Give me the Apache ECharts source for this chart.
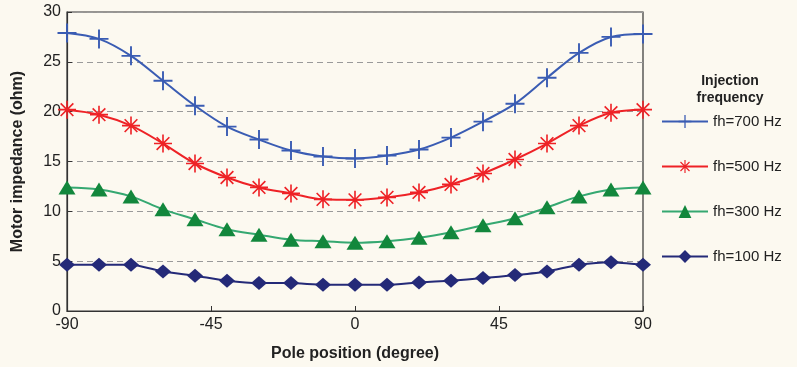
<!DOCTYPE html>
<html>
<head>
<meta charset="utf-8">
<script src="https://cdn.jsdelivr.net/npm/echarts@6/dist/echarts.min.js"></script>
<style>
html,body{margin:0;padding:0;background:#fcf9f0;}
#c{width:797px;height:367px;}
</style>
</head>
<body>
<div id="c"></div>
<script>
var positions = [-90,-80,-70,-60,-50,-40,-30,-20,-10,0,10,20,30,40,50,60,70,80,90];
var fh700 = [27.9,27.3,25.6,23.1,20.6,18.5,17.2,16.1,15.5,15.3,15.6,16.2,17.4,19.0,20.8,23.4,25.9,27.5,27.8];
var fh500 = [20.2,19.7,18.6,16.8,14.8,13.4,12.4,11.8,11.2,11.15,11.4,11.9,12.7,13.8,15.2,16.8,18.6,19.9,20.2];
var fh300 = [12.4,12.2,11.5,10.2,9.2,8.2,7.65,7.15,7.0,6.85,7.0,7.35,7.9,8.6,9.3,10.4,11.5,12.2,12.4];
var fh100 = [4.64,4.64,4.64,3.97,3.54,3.04,2.8,2.8,2.64,2.64,2.64,2.87,3.04,3.3,3.6,3.97,4.64,4.9,4.64];
var seriesNames = ['fh=700 Hz','fh=500 Hz','fh=300 Hz','fh=100 Hz'];
var xTicks = [-90,-45,0,45,90];
var yTicks = [0,5,10,15,20,25,30];

function pairs(arr){ return positions.map(function(p,i){ return [p, arr[i]]; }); }

var plusPath = 'path://M0,9H20V11H0Z M9,0H11V20H9Z';
var starPath = 'path://M0,9.1H20V10.9H0Z M9.1,0H10.9V20H9.1Z M2.3,3.6L3.6,2.3L17.7,16.4L16.4,17.7Z M16.4,2.3L17.7,3.6L3.6,17.7L2.3,16.4Z';
var FONT = 'Liberation Sans';

var chart = echarts.init(document.getElementById('c'));
chart.setOption({
  backgroundColor: '#fcf9f0',
  animation: false,
  title: {
    text: 'Injection\nfrequency',
    left: 725, top: 68, textAlign: 'center',
    textStyle: {fontFamily: FONT, fontWeight: 'bold', fontSize: 14, lineHeight: 17, color: '#222'}
  },
  grid: {left: 67, right: 154, top: 12, bottom: 56, show: true, borderColor: '#333', borderWidth: 1.2, backgroundColor: 'transparent'},
  legend: {
    orient: 'vertical', left: 661, top: 114, padding: 0,
    itemWidth: 46, itemHeight: 16, itemGap: 30,
    data: seriesNames,
    textStyle: {fontFamily: FONT, fontSize: 15, color: '#222'}
  },
  xAxis: {
    type: 'value', min: -90, max: 90, interval: 45,
    name: 'Pole position (degree)', nameLocation: 'middle', nameGap: 35,
    nameTextStyle: {fontFamily: FONT, fontWeight: 'bold', fontSize: 16, color: '#222'},
    axisLine: {show: true, onZero: false, lineStyle: {color: '#333', width: 1.2}},
    axisTick: {show: true, inside: true, length: 5, lineStyle: {color: '#333'}},
    axisLabel: {fontFamily: FONT, fontSize: 16, color: '#222', margin: 6},
    splitLine: {show: false}
  },
  yAxis: {
    type: 'value', min: 0, max: 30, interval: 5,
    name: 'Motor impedance (ohm)', nameLocation: 'middle', nameGap: 41, nameRotate: 90,
    nameTextStyle: {fontFamily: FONT, fontWeight: 'bold', fontSize: 16, color: '#222'},
    axisLine: {show: true, onZero: false, lineStyle: {color: '#333', width: 1.2}},
    axisTick: {show: true, inside: true, length: 5, lineStyle: {color: '#333'}},
    axisLabel: {fontFamily: FONT, fontSize: 16, color: '#222', margin: 6},
    splitLine: {show: true, lineStyle: {color: '#9a9a9a', type: [6,4], width: 1}}
  },
  series: [
    {name: seriesNames[0], type: 'line', smooth: 0.35, data: pairs(fh700),
     symbol: plusPath, symbolSize: 19, symbolKeepAspect: true,
     lineStyle: {color: '#3a5cb3', width: 2}, itemStyle: {color: '#3a5cb3', borderWidth: 0}},
    {name: seriesNames[1], type: 'line', smooth: 0.35, data: pairs(fh500),
     symbol: starPath, symbolSize: 18, symbolKeepAspect: true,
     lineStyle: {color: '#ee2226', width: 2}, itemStyle: {color: '#ee2226', borderWidth: 0}},
    {name: seriesNames[2], type: 'line', smooth: 0.35, data: pairs(fh300),
     symbol: 'triangle', symbolSize: [17, 14],
     lineStyle: {color: '#35a871', width: 2}, itemStyle: {color: '#12873c', borderWidth: 0}},
    {name: seriesNames[3], type: 'line', smooth: 0.2, data: pairs(fh100),
     symbol: 'diamond', symbolSize: [16, 14],
     lineStyle: {color: '#242a78', width: 2}, itemStyle: {color: '#242a78', borderWidth: 0}}
  ]
});
</script>
</body>
</html>
